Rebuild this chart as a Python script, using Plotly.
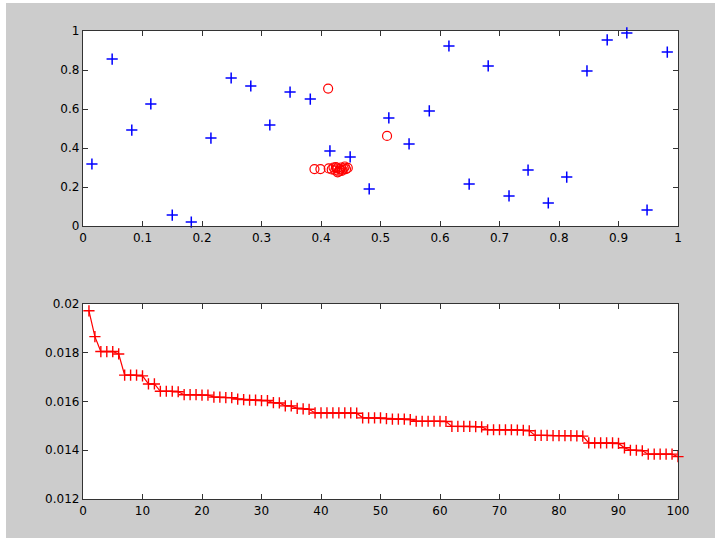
import plotly.graph_objects as go

W, H = 715, 539
M = 20  # explicit figure margin in px; all positions below are figure pixels

# ---- top subplot data ----
blue_x = [0.015, 0.049, 0.082, 0.114, 0.150, 0.182, 0.215, 0.249, 0.282, 0.314,
          0.348, 0.382, 0.415, 0.449, 0.481, 0.514, 0.548, 0.582, 0.615, 0.649,
          0.681, 0.716, 0.748, 0.782, 0.813, 0.847, 0.881, 0.914, 0.948, 0.982]
blue_y = [0.318, 0.856, 0.492, 0.626, 0.056, 0.020, 0.451, 0.759, 0.718, 0.518,
          0.687, 0.651, 0.385, 0.354, 0.190, 0.554, 0.421, 0.590, 0.923, 0.215,
          0.821, 0.154, 0.287, 0.118, 0.251, 0.795, 0.954, 0.990, 0.082, 0.892]

red_x = [0.412, 0.511, 0.389, 0.399, 0.413, 0.418, 0.421, 0.424, 0.427, 0.430,
         0.432, 0.434, 0.436, 0.438, 0.440, 0.442, 0.428, 0.435, 0.445, 0.425]
red_y = [0.705, 0.462, 0.292, 0.292, 0.295, 0.290, 0.300, 0.285, 0.295, 0.280,
         0.290, 0.300, 0.288, 0.295, 0.305, 0.292, 0.275, 0.282, 0.298, 0.302]

top_xticks = [0, 0.1, 0.2, 0.3, 0.4, 0.5, 0.6, 0.7, 0.8, 0.9, 1]
top_xlabels = ["0", "0.1", "0.2", "0.3", "0.4", "0.5", "0.6", "0.7", "0.8", "0.9", "1"]
top_yticks = [0, 0.2, 0.4, 0.6, 0.8, 1]
top_ylabels = ["0", "0.2", "0.4", "0.6", "0.8", "1"]

# ---- bottom subplot data ----
iter_x = list(range(1, 101))
best_val = [
    0.01972, 0.01866, 0.01805, 0.01805, 0.01805, 0.01795, 0.01708, 0.01708, 0.01708, 0.01705,
    0.01672, 0.01672, 0.01642, 0.01642, 0.01642, 0.01640, 0.01628, 0.01628, 0.01628, 0.01626,
    0.01626, 0.01618, 0.01618, 0.01616, 0.01616, 0.01610, 0.01608, 0.01606, 0.01606, 0.01604,
    0.01604, 0.01595, 0.01594, 0.01582, 0.01582, 0.01572, 0.01570, 0.01568, 0.01553, 0.01553,
    0.01553, 0.01553, 0.01553, 0.01553, 0.01553, 0.01552, 0.01533, 0.01533, 0.01533, 0.01533,
    0.01530, 0.01528, 0.01528, 0.01528, 0.01526, 0.01519, 0.01519, 0.01519, 0.01519, 0.01519,
    0.01518, 0.01498, 0.01498, 0.01498, 0.01498, 0.01497, 0.01496, 0.01484, 0.01484, 0.01484,
    0.01484, 0.01484, 0.01483, 0.01482, 0.01480, 0.01461, 0.01461, 0.01461, 0.01460, 0.01460,
    0.01460, 0.01460, 0.01459, 0.01458, 0.01430, 0.01430, 0.01430, 0.01430, 0.01430, 0.01428,
    0.01410, 0.01400, 0.01400, 0.01398, 0.01384, 0.01384, 0.01384, 0.01384, 0.01384, 0.01374]

bot_xticks = [0, 10, 20, 30, 40, 50, 60, 70, 80, 90, 100]
bot_xlabels = ["0", "10", "20", "30", "40", "50", "60", "70", "80", "90", "100"]
bot_yticks = [0.012, 0.014, 0.016, 0.018, 0.02]
bot_ylabels = ["0.012", "0.014", "0.016", "0.018", "0.02"]

fig = go.Figure()

fig.add_trace(go.Scatter(
    x=blue_x, y=blue_y, mode="markers", xaxis="x", yaxis="y",
    marker=dict(symbol="cross-thin", size=8, line=dict(color="#0000ff", width=1.5)),
    cliponaxis=False, showlegend=False))
fig.add_trace(go.Scatter(
    x=red_x, y=red_y, mode="markers", xaxis="x", yaxis="y",
    marker=dict(symbol="circle-open", size=9, color="#ff0000", line=dict(width=1.2)),
    cliponaxis=False, showlegend=False))
fig.add_trace(go.Scatter(
    x=iter_x, y=best_val, mode="lines+markers", xaxis="x2", yaxis="y2",
    line=dict(color="#ff0000", width=1.2),
    marker=dict(symbol="cross-thin", size=8, line=dict(color="#ff0000", width=1.4)),
    cliponaxis=False, showlegend=False))

PW, PH = W - 2 * M, H - 2 * M

def px_x(p):
    return (p - M) / PW

def px_y(p):
    return 1 - (p - M) / PH

def rect_path(x0, y0, x1, y1):
    return "M{:.5f},{:.5f} L{:.5f},{:.5f} L{:.5f},{:.5f} L{:.5f},{:.5f} Z".format(
        px_x(x0), px_y(y0), px_x(x1), px_y(y0), px_x(x1), px_y(y1), px_x(x0), px_y(y1))

frame_path = " ".join([
    rect_path(6, 3, 716, 538),
    rect_path(83, 31, 678, 226),
    rect_path(83, 304, 678, 499),
])

axis_common = dict(
    showline=True, mirror="ticks", linecolor="#333333", linewidth=1.3,
    ticks="inside", ticklen=5, tickcolor="#333333", tickwidth=1.3,
    showgrid=False, zeroline=False, tickmode="array", automargin=False,
    tickfont=dict(family="DejaVu Sans", size=12, color="#000000"),
)

fig.update_layout(
    width=W, height=H,
    margin=dict(l=M, r=M, t=M, b=M, pad=0, autoexpand=False),
    paper_bgcolor="#ffffff", plot_bgcolor="#ffffff",
    xaxis=dict(domain=[px_x(83), px_x(678)], range=[0, 1], anchor="y",
               tickvals=top_xticks, ticktext=top_xlabels, **axis_common),
    yaxis=dict(domain=[px_y(226), px_y(31)], range=[0, 1], anchor="x",
               tickvals=top_yticks, ticktext=top_ylabels, **axis_common),
    xaxis2=dict(domain=[px_x(83), px_x(678)], range=[0, 100], anchor="y2",
                tickvals=bot_xticks, ticktext=bot_xlabels, **axis_common),
    yaxis2=dict(domain=[px_y(499), px_y(304)], range=[0.012, 0.02], anchor="x2",
                tickvals=bot_yticks, ticktext=bot_ylabels, **axis_common),
    shapes=[dict(type="path", xref="paper", yref="paper", path=frame_path,
                 fillcolor="#cccccc", fillrule="evenodd", line=dict(width=0),
                 layer="below")],
)

fig.write_html("out.html")
